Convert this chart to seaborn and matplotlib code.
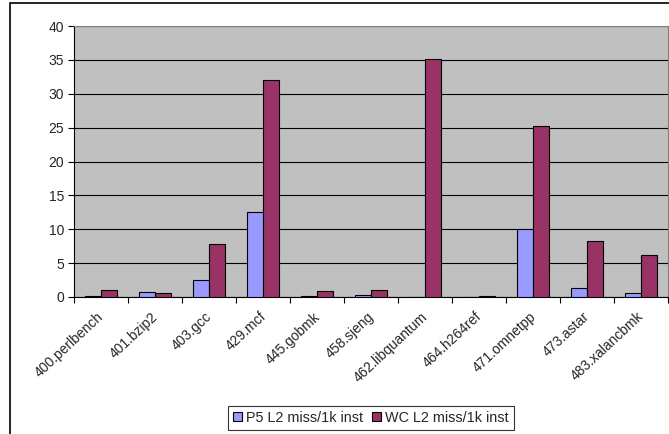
import matplotlib
matplotlib.use("Agg")
import matplotlib.pyplot as plt
import matplotlib.transforms as mtransforms
import seaborn as sns
import pandas as pd
from matplotlib.patches import Rectangle
from matplotlib.ticker import FixedLocator

benchmarks = ["400.perlbench", "401.bzip2", "403.gcc", "429.mcf", "445.gobmk",
              "458.sjeng", "462.libquantum", "464.h264ref", "471.omnetpp",
              "473.astar", "483.xalancbmk"]
p5_values = [0.15, 0.8, 2.55, 12.6, 0.15, 0.3, 0.0, 0.05, 10.0, 1.4, 0.6]
wc_values = [1.0, 0.6, 7.8, 32.0, 0.85, 1.0, 35.2, 0.2, 25.2, 8.2, 6.15]
series_names = ["P5 L2 miss/1k inst", "WC L2 miss/1k inst"]
y_ticks = [0, 5, 10, 15, 20, 25, 30, 35, 40]

df = pd.DataFrame({
    "benchmark": benchmarks * 2,
    "value": p5_values + wc_values,
    "series": [series_names[0]] * len(benchmarks) + [series_names[1]] * len(benchmarks),
})

sns.set_style("white")
plt.rcParams["font.family"] = ["Liberation Sans", "DejaVu Sans"]

fig = plt.figure(figsize=(6.69, 4.34), dpi=100)
ax = fig.add_axes([74 / 669, 1 - 297 / 434, (668 - 74) / 669, (297 - 26) / 434])
ax.set_facecolor("#C0C0C0")

sns.barplot(data=df, x="benchmark", y="value", hue="series",
            palette=["#9999FF", "#993366"], saturation=1, edgecolor="black", linewidth=0.8,
            width=0.6, ax=ax, legend=True, zorder=3)

ax.set_ylim(0, 40)
ax.set_xlim(-0.5, len(benchmarks) - 0.5)
ax.set_yticks(y_ticks)
ax.set_yticklabels([str(t) for t in y_ticks], fontsize=10)
ax.yaxis.grid(True, color="black", linewidth=0.8, zorder=0)
ax.set_axisbelow(True)
ax.set_xlabel("")
ax.set_ylabel("")

ax.set_xticks(range(len(benchmarks)))
ax.set_xticklabels(benchmarks, rotation=43, ha="right", rotation_mode="anchor", fontsize=10)
ax.tick_params(axis="x", which="major", length=0, pad=9)
offset = mtransforms.ScaledTranslation(-4 / 100, 0, fig.dpi_scale_trans)
for lbl in ax.get_xticklabels():
    lbl.set_transform(lbl.get_transform() + offset)
ax.xaxis.set_minor_locator(FixedLocator([i - 0.5 for i in range(len(benchmarks) + 1)]))
ax.tick_params(axis="x", which="minor", length=4, width=0.8, color="black", direction="out", bottom=True)
ax.tick_params(axis="y", length=4, width=0.8, color="black", direction="out", left=True, pad=3)

for side in ["top", "right"]:
    ax.spines[side].set_color("#808080")
    ax.spines[side].set_linewidth(0.8)
for side in ["left", "bottom"]:
    ax.spines[side].set_color("black")
    ax.spines[side].set_linewidth(0.8)

handles, labels = ax.get_legend_handles_labels()
ax.get_legend().remove()
leg = fig.legend(handles, labels, loc="center", bbox_to_anchor=(371 / 669, 1 - 418 / 434),
                 ncol=2, fontsize=10.4, frameon=True, fancybox=False, handlelength=0.6,
                 handleheight=0.6, handletextpad=0.3, columnspacing=0.6, borderpad=0.35,
                 borderaxespad=0)
leg.get_frame().set_edgecolor("black")
leg.get_frame().set_linewidth(0.8)

fig.patches.append(Rectangle((10 / 669, -0.1), 1.1, 1 - 3 / 434 + 0.1, transform=fig.transFigure,
                             fill=False, edgecolor="black", linewidth=1.2, zorder=0))

fig.savefig("out.png", dpi=100)
